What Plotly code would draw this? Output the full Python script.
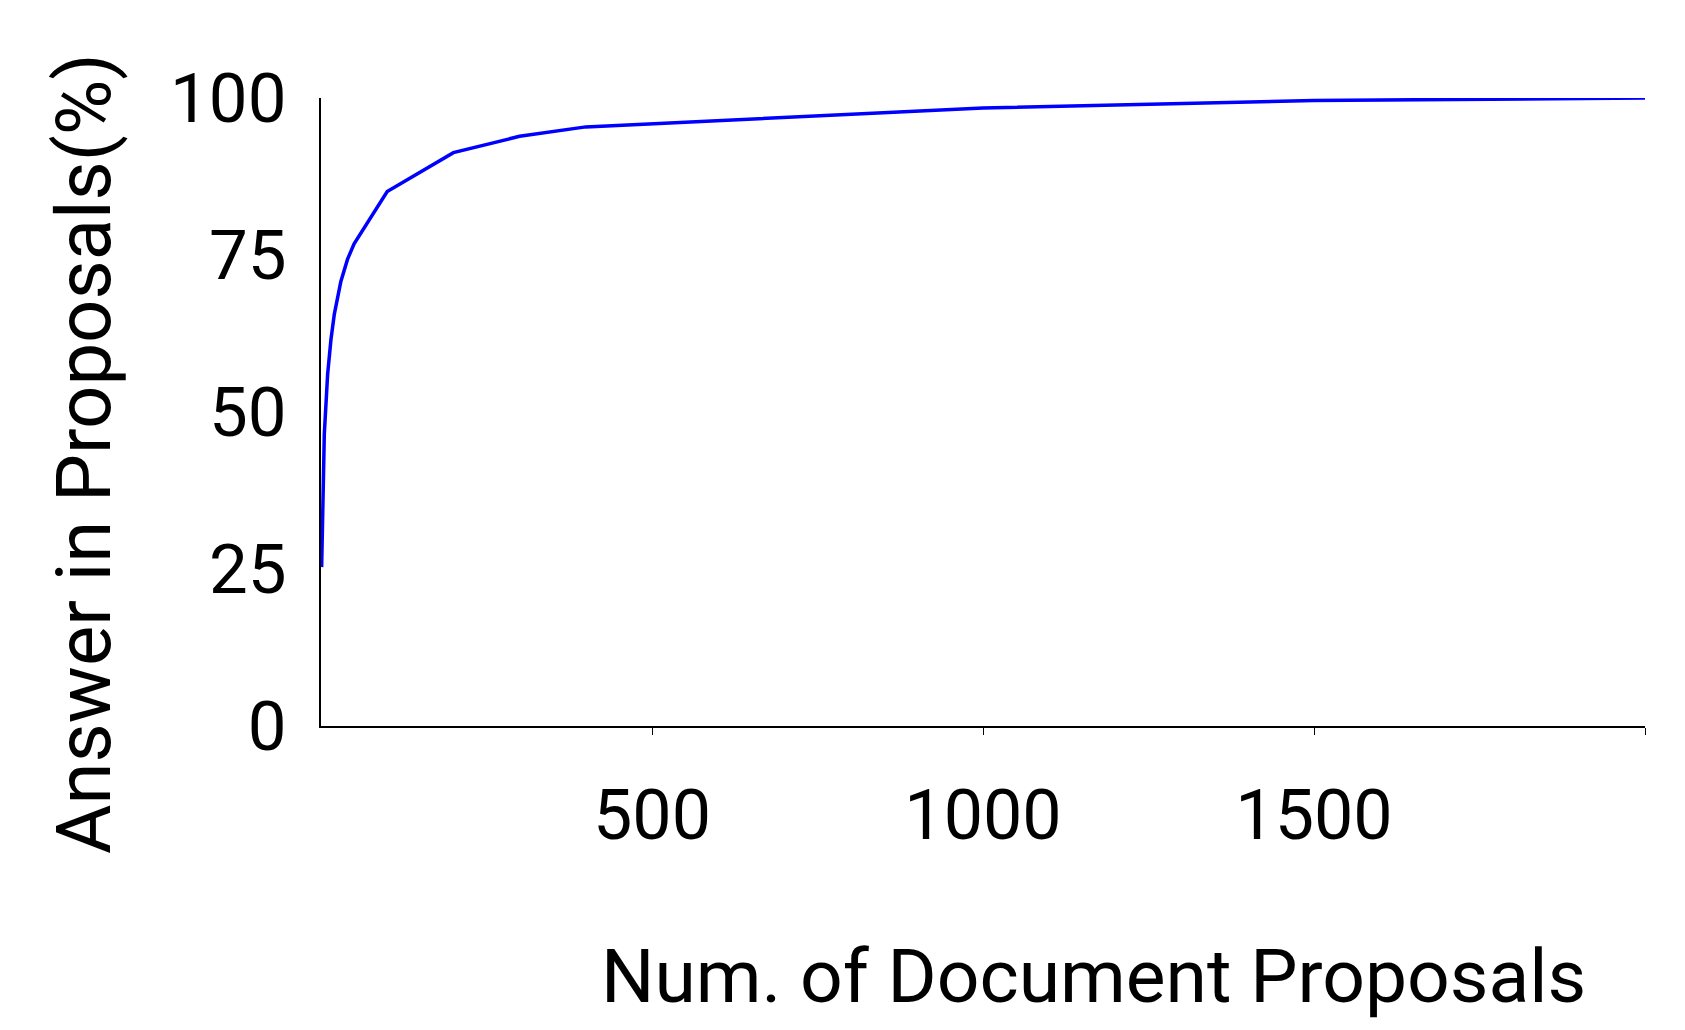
import plotly.graph_objects as go

# data
num_proposals = [1, 5, 10, 15, 20, 30, 40, 50, 100, 200, 300, 400, 1000, 1500, 2000]
answer_pct = [25.3, 46.5, 56.0, 61.5, 65.5, 70.8, 74.3, 76.8, 85.1, 91.3, 93.9, 95.4, 98.4, 99.6, 100.0]

x_ticks = [500, 1000, 1500, 2000]
x_ticklabels = ["500", "1000", "1500", ""]
y_ticks = [0, 25, 50, 75, 100]

FONT = "Roboto"
W, H = 1685, 1030
# plot area in figure pixels (page body adds an 8px offset)
L, R, T, B = 313, 48, 90, 312

fig = go.Figure()
fig.add_trace(go.Scatter(
    x=num_proposals,
    y=answer_pct,
    mode="lines",
    line=dict(color="#0000ff", width=3.5),
    showlegend=False,
))

pw = W - L - R
ph = H - T - B


def px_to_paper(xp, yp):
    return (xp - L) / pw, (H - B - yp) / ph


xt_x, xt_y = px_to_paper(1085, 968)
yt_x, yt_y = px_to_paper(76, 446)

fig.update_layout(
    width=W, height=H,
    margin=dict(l=L, r=R, t=T, b=B),
    paper_bgcolor="white", plot_bgcolor="white",
    font=dict(family=FONT, color="black"),
    xaxis=dict(
        range=[0, 2000], tickvals=x_ticks, ticktext=x_ticklabels,
        showline=True, linecolor="black", linewidth=1.5,
        ticks="outside", ticklen=7, tickcolor="black", tickwidth=1,
        showgrid=False, zeroline=False,
        ticklabelstandoff=20,
        tickfont=dict(size=70, family=FONT),
    ),
    yaxis=dict(
        range=[0, 100], tickvals=y_ticks,
        showline=True, linecolor="black", linewidth=1.5,
        ticks="", ticklen=0,
        showgrid=False, zeroline=False,
        ticklabelstandoff=19,
        tickfont=dict(size=69, family=FONT),
    ),
    annotations=[
        dict(text="Num. of Document Proposals", x=xt_x, y=xt_y, xref="paper", yref="paper",
             xanchor="center", yanchor="middle",
             showarrow=False, font=dict(size=75, family=FONT)),
        dict(text="Answer in Proposals(%)", textangle=-90, x=yt_x, y=yt_y,
             xref="paper", yref="paper", xanchor="center", yanchor="middle",
             showarrow=False, font=dict(size=76, family=FONT)),
    ],
)

fig.write_html("out.html")
